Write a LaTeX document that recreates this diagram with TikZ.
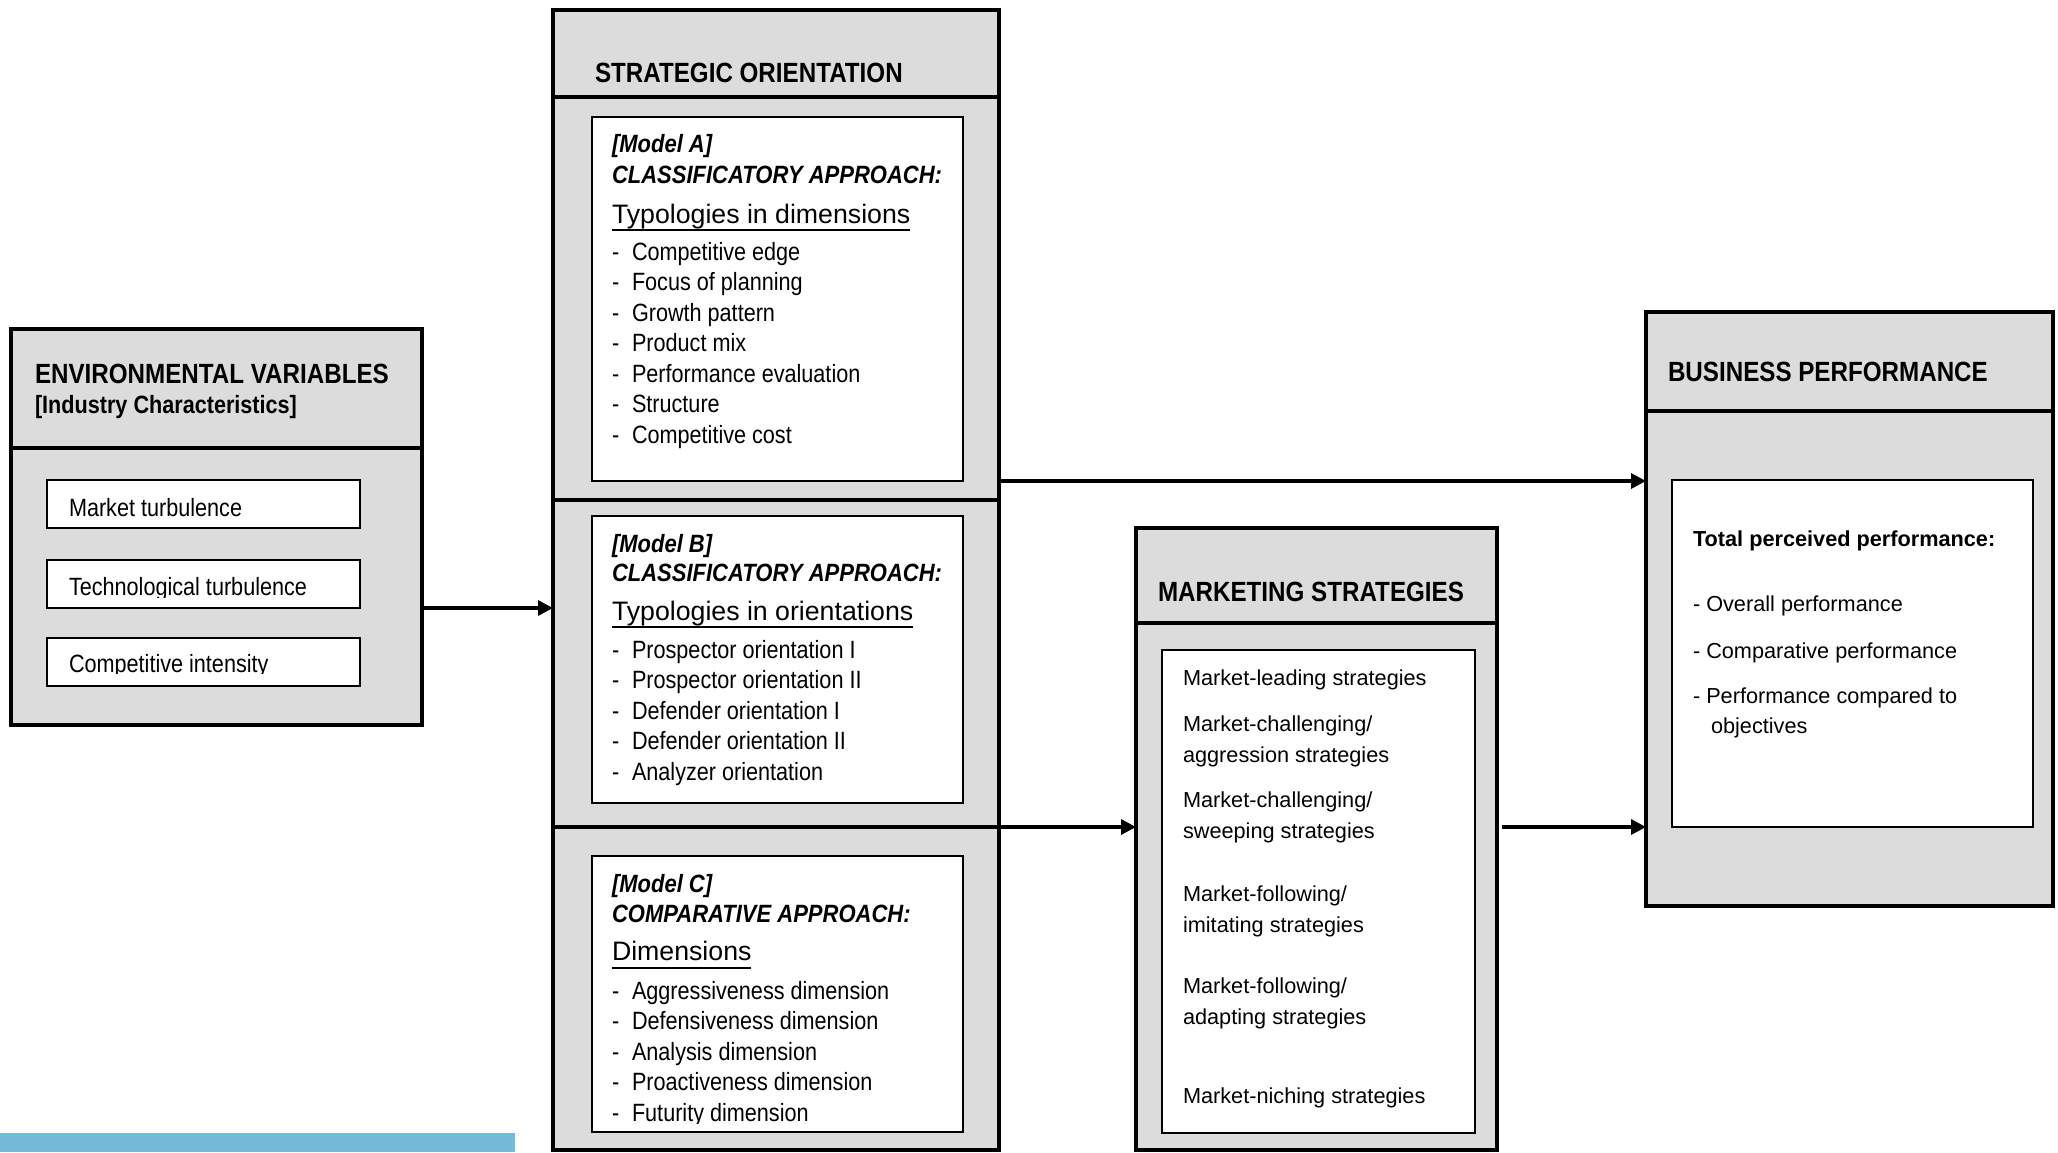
\documentclass[tikz,border=0pt]{standalone}
\usepackage{fontspec}
\setmainfont{Liberation Sans}
\newfontfamily\titlesans[FakeStretch=0.87]{Liberation Sans}
\newfontfamily\itemsans[FakeStretch=0.865]{Liberation Sans}
\newfontfamily\modelsans[FakeStretch=0.88]{Liberation Sans}
\usetikzlibrary{arrows.meta,calc}
\definecolor{panelgray}{RGB}{220,220,220}
\definecolor{barblue}{RGB}{114,186,216}

\begin{document}
\begin{tikzpicture}[x=1pt,y=-1pt,
  panel/.style={draw=black, line width=3.3pt, fill=panelgray, inner sep=0pt, outer sep=0pt, anchor=north west},
  card/.style={draw=black, line width=1.8pt, fill=white, inner sep=0pt, outer sep=0pt, anchor=north west},
  txt/.style={inner sep=0pt, outer sep=0pt, anchor=base west},
  title/.style={txt, font=\titlesans\bfseries\fontsize{27.8}{32}\selectfont},
  subtitle/.style={txt, font=\itemsans\bfseries\fontsize{25}{29}\selectfont},
  item/.style={txt, font=\itemsans\fontsize{25}{30}\selectfont},
  model/.style={txt, font=\modelsans\bfseries\itshape\fontsize{25}{30}\selectfont},
  typo/.style={txt, font=\fontsize{26.7}{30}\selectfont},
  plain/.style={txt, font=\fontsize{21.7}{26}\selectfont},
  plainbold/.style={txt, font=\bfseries\fontsize{21.7}{26}\selectfont},
  flow/.style={line width=3.3pt, -{Triangle[length=15pt,width=15pt]}},
  ul/.style={line width=2pt},
]
\useasboundingbox (0,0) rectangle (2058,1152);

% ---------- panels ----------
\node[panel, minimum width=411pt, minimum height=119pt] (envHead) at (11,329) {};
\node[panel, minimum width=411pt, minimum height=277pt] (envBody) at (11,448) {};

\node[panel, minimum width=446pt, minimum height=87pt]  (stratHead) at (553,10) {};
\node[panel, minimum width=446pt, minimum height=403pt] (stratA) at (553,97) {};
\node[panel, minimum width=446pt, minimum height=327pt] (stratB) at (553,500) {};
\node[panel, minimum width=446pt, minimum height=323pt] (stratC) at (553,827) {};

\node[panel, minimum width=361pt, minimum height=95pt]  (mktHead) at (1136,528) {};
\node[panel, minimum width=361pt, minimum height=527pt] (mktBody) at (1136,623) {};

\node[panel, minimum width=407pt, minimum height=99pt]  (perfHead) at (1646,312) {};
\node[panel, minimum width=407pt, minimum height=495pt] (perfBody) at (1646,411) {};

% ---------- white cards ----------
\node[card, minimum width=313pt, minimum height=48pt] (envC1) at (47,480) {};
\node[card, minimum width=313pt, minimum height=48pt] (envC2) at (47,560) {};
\node[card, minimum width=313pt, minimum height=48pt] (envC3) at (47,638) {};

\node[card, minimum width=371pt, minimum height=364pt] (cardA) at (592,117) {};
\node[card, minimum width=371pt, minimum height=287pt] (cardB) at (592,516) {};
\node[card, minimum width=371pt, minimum height=276pt] (cardC) at (592,856) {};

\node[card, minimum width=313pt, minimum height=483pt] (cardM) at (1162,650) {};
\node[card, minimum width=361pt, minimum height=347pt] (cardP) at (1672,480) {};

% ---------- environmental variables ----------
\node[title] (envT) at (35,383) {ENVIRONMENTAL VARIABLES};
\node[subtitle] (envS) at (35,413) {[Industry Characteristics]};
\node[item] (envI1) at (69,516) {Market turbulence};
\begin{scope}
  \clip (47,560) rectangle (360,597.5);
  \node[item] (envI2) at (69,595) {Technological turbulence};
\end{scope}
\begin{scope}
  \clip (47,638) rectangle (360,673.5);
  \node[item] (envI3) at (69,672) {Competitive intensity};
\end{scope}

% ---------- strategic orientation ----------
\node[title] (soT) at (595,82) {STRATEGIC ORIENTATION};

\node[model] (mA) at (612,152) {[Model A]};
\node[model] (apA) at (612,183) {CLASSIFICATORY APPROACH:};
\node[typo] (tyA) at (612,223) {Typologies in dimensions};
\draw[ul] ($(tyA.base west)+(0,7)$) -- ($(tyA.base east)+(0,7)$);
\foreach \t [count=\i] in {Competitive edge, Focus of planning, Growth pattern,
    Product mix, Performance evaluation, Structure, Competitive cost} {
  \node[item] (dA\i) at (612,{260+30.5*(\i-1)}) {-};
  \node[item] (iA\i) at (632,{260+30.5*(\i-1)}) {\t};
}

\node[model] (mB) at (612,552) {[Model B]};
\node[model] (apB) at (612,581) {CLASSIFICATORY APPROACH:};
\node[typo] (tyB) at (612,620) {Typologies in orientations};
\draw[ul] ($(tyB.base west)+(0,7)$) -- ($(tyB.base east)+(0,7)$);
\foreach \t [count=\i] in {Prospector orientation I, Prospector orientation II,
    Defender orientation I, Defender orientation II, Analyzer orientation} {
  \node[item] (dB\i) at (612,{658+30.5*(\i-1)}) {-};
  \node[item] (iB\i) at (632,{658+30.5*(\i-1)}) {\t};
}

\node[model] (mC) at (612,892) {[Model C]};
\node[model] (apC) at (612,922) {COMPARATIVE APPROACH:};
\node[typo] (tyC) at (612,960) {Dimensions};
\draw[ul] ($(tyC.base west)+(0,8)$) -- ($(tyC.base east)+(0,8)$);
\foreach \t [count=\i] in {Aggressiveness dimension, Defensiveness dimension,
    Analysis dimension, Proactiveness dimension} {
  \node[item] (dC\i) at (612,{999+30.5*(\i-1)}) {-};
  \node[item] (iC\i) at (632,{999+30.5*(\i-1)}) {\t};
}
\node[item] (dC5) at (612,1121) {-};
\begin{scope}
  \clip (600,1090) rectangle (960,1123);
  \node[item] (iC5) at (632,1121) {Futurity dimension};
\end{scope}

% ---------- marketing strategies ----------
\node[title] (msT) at (1158,601) {MARKETING STRATEGIES};
\node[plain] (ms1)  at (1183,685)  {Market-leading strategies};
\node[plain] (ms2)  at (1183,731)  {Market-challenging/};
\node[plain] (ms2b) at (1183,762)  {aggression strategies};
\node[plain] (ms3)  at (1183,807)  {Market-challenging/};
\node[plain] (ms3b) at (1183,838)  {sweeping strategies};
\node[plain] (ms4)  at (1183,901)  {Market-following/};
\node[plain] (ms4b) at (1183,932)  {imitating strategies};
\node[plain] (ms5)  at (1183,993)  {Market-following/};
\node[plain] (ms5b) at (1183,1024) {adapting strategies};
\node[plain] (ms6)  at (1183,1103) {Market-niching strategies};

% ---------- business performance ----------
\node[title] (bpT) at (1668,381) {BUSINESS PERFORMANCE};
\node[plainbold] (bp0) at (1693,546) {Total perceived performance:};
\node[plain] (bp1)  at (1693,611) {- Overall performance};
\node[plain] (bp2)  at (1693,658) {- Comparative performance};
\node[plain] (bp3)  at (1693,703) {- Performance compared to};
\node[plain] (bp3b) at (1711,733) {objectives};

% ---------- connectors ----------
\coordinate (rowEnv) at (0,608);
\coordinate (rowTop) at (0,481);
\coordinate (rowLow) at (0,827);
\draw[flow] (envBody.east |- rowEnv) -- (stratB.west |- rowEnv);
\draw[flow] (stratA.east |- rowTop) -- (perfBody.west |- rowTop);
\draw[flow] (stratB.east |- rowLow) -- (mktBody.west |- rowLow);
\draw[flow] ($(mktBody.east |- rowLow)+(5,0)$) -- (perfBody.west |- rowLow);

% ---------- footer band ----------
\fill[barblue] (0,1133) rectangle (515,1152);
\end{tikzpicture}
\end{document}
